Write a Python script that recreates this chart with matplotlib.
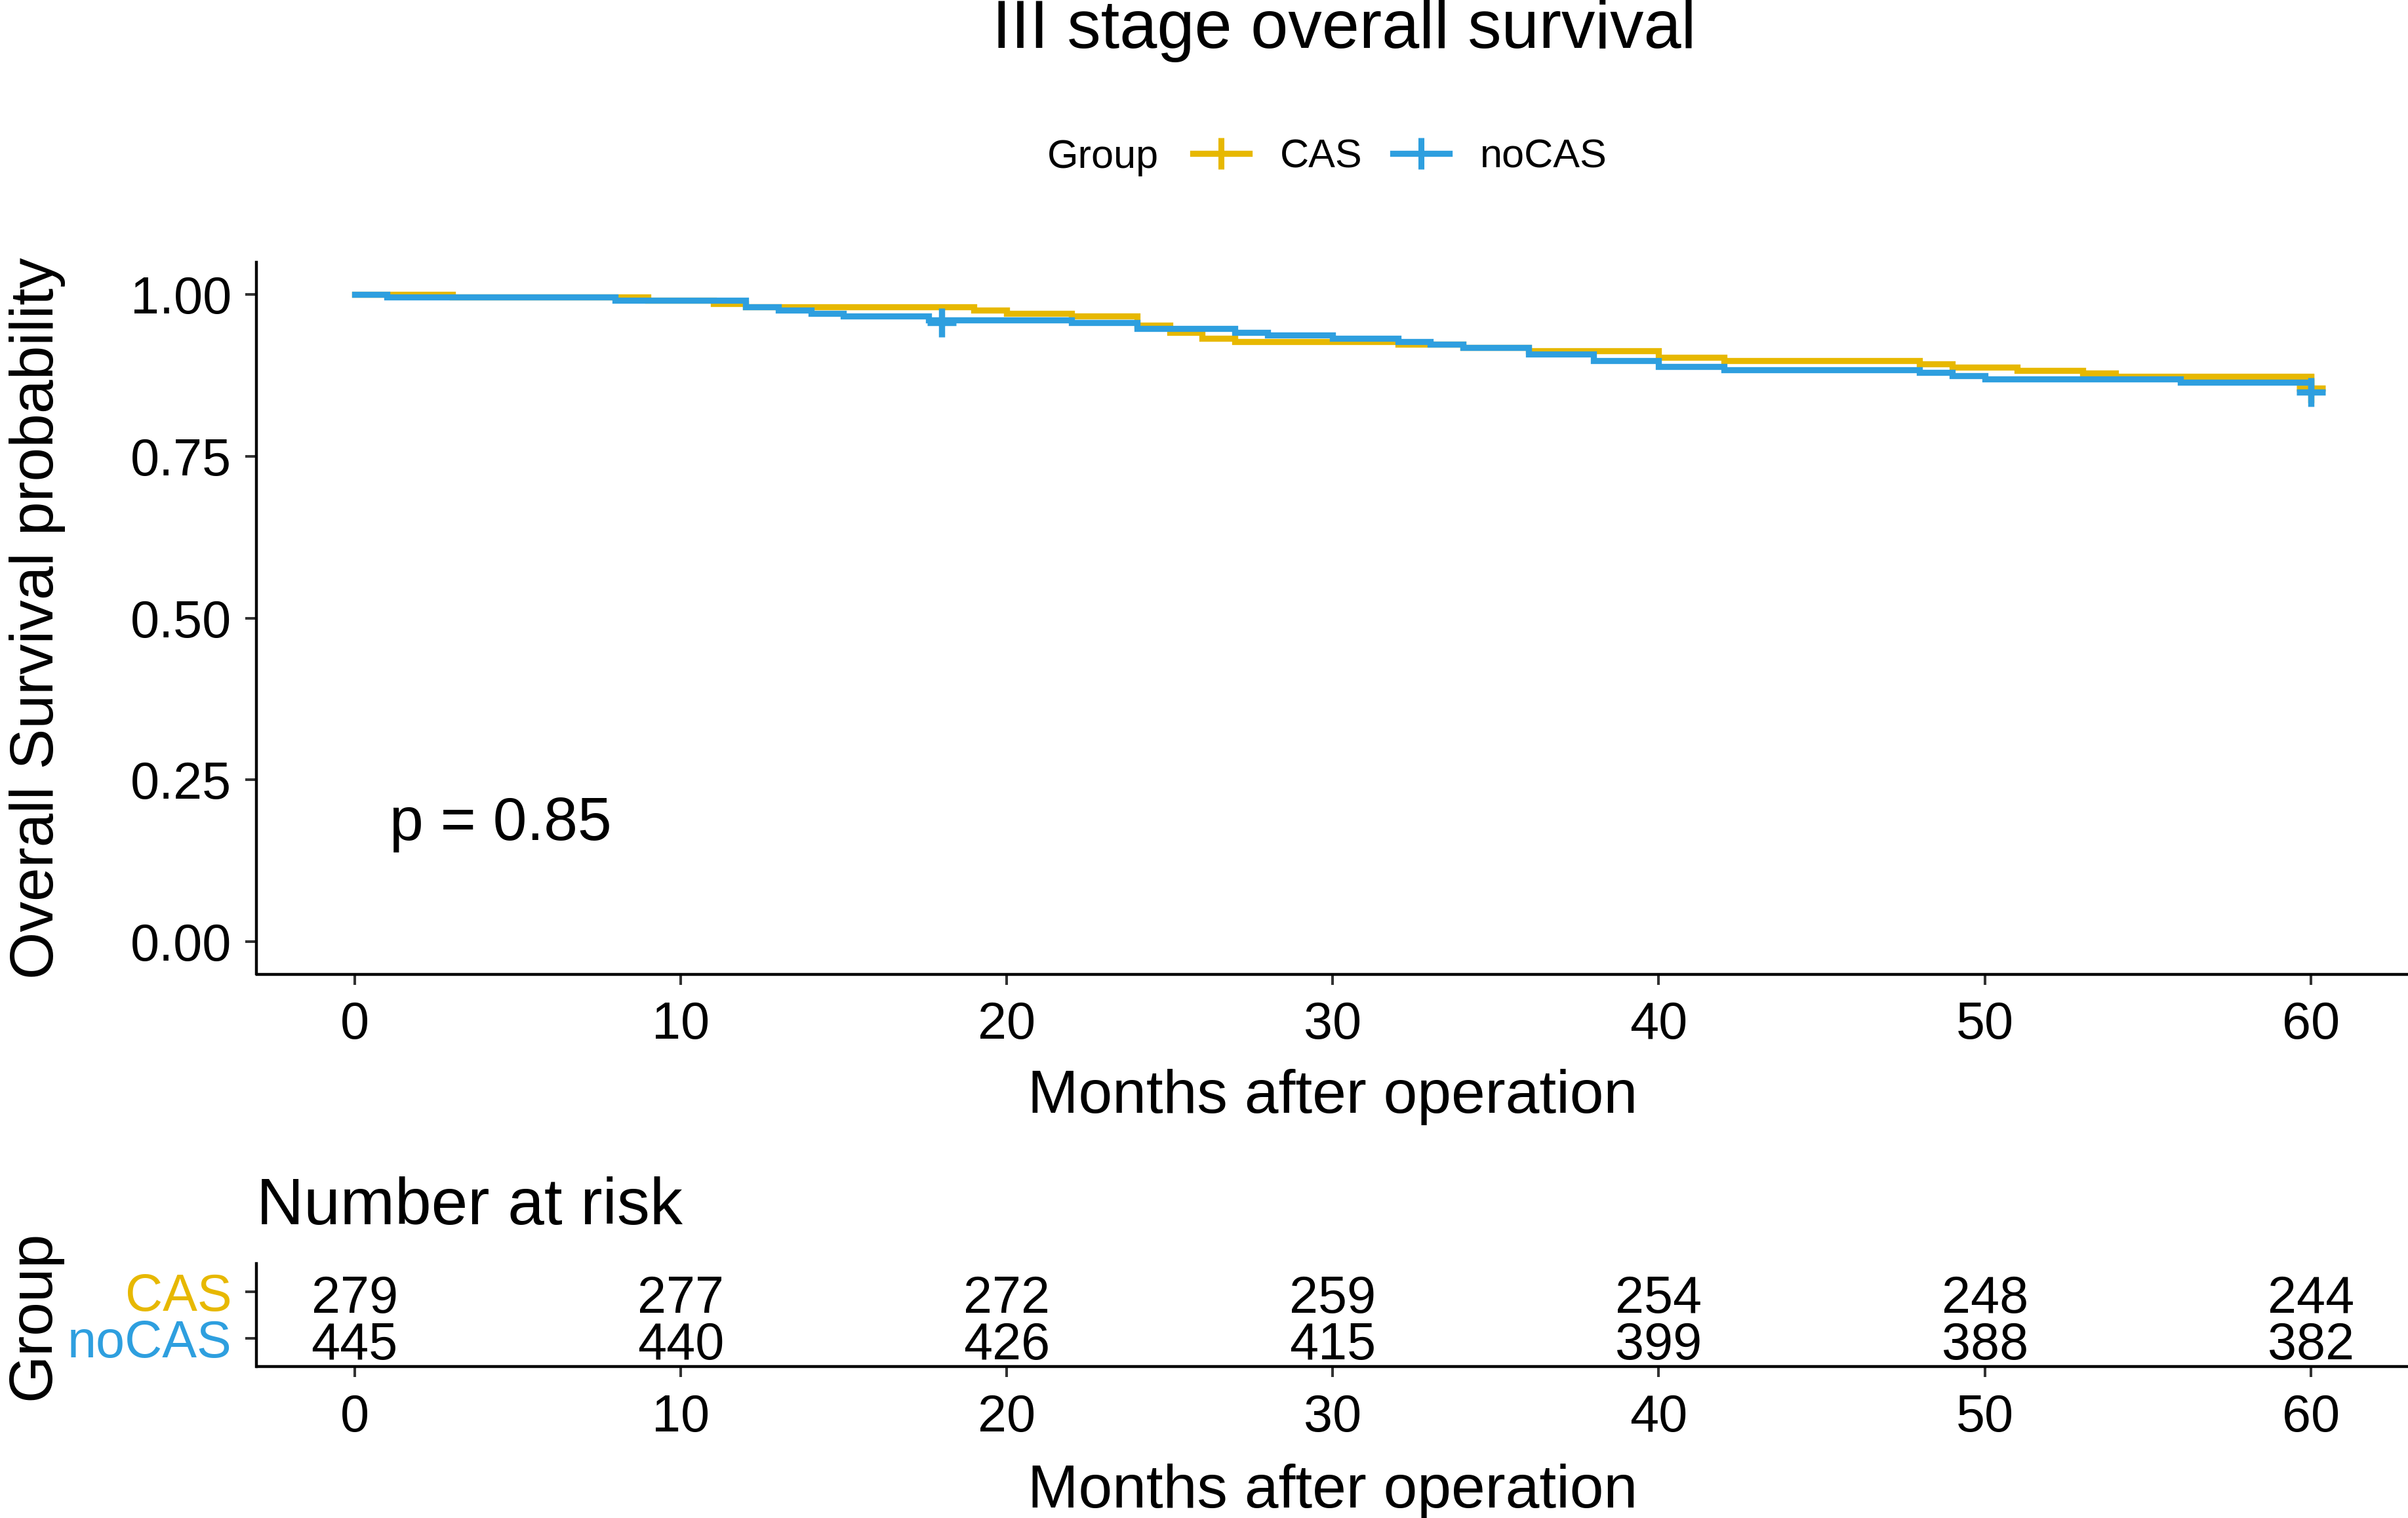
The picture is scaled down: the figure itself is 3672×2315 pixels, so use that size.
import matplotlib
matplotlib.use('Agg')
import matplotlib.pyplot as plt
from matplotlib.lines import Line2D

plt.rcParams['font.family'] = ['Liberation Sans', 'DejaVu Sans']

# data
groups = ['CAS', 'noCAS']
colors = ['#E7B800', '#2E9FDF']

cas_time = [0, 3, 9, 11, 12, 19, 20, 22, 24, 25, 26, 27, 32, 34, 36,
            40, 42, 48, 49, 51, 53, 54, 60]
cas_surv = [1.000, 0.9955, 0.9907, 0.986, 0.981, 0.9758, 0.9709, 0.9662,
            0.952, 0.9417, 0.9324, 0.9275, 0.9226, 0.9177, 0.9128,
            0.903, 0.898, 0.893, 0.888, 0.883, 0.8787, 0.8739, 0.855]
cas_cens_time = [60]
cas_cens_surv = [0.855]

nocas_time = [0, 1, 8, 12, 13, 14, 15, 17.6, 22, 24, 27, 28, 30, 32, 33,
              34, 36, 38, 40, 42, 48, 49, 50, 56, 60]
nocas_surv = [1.000, 0.9955, 0.9907, 0.9805, 0.9758, 0.9709, 0.9662, 0.961,
              0.9563, 0.947, 0.9417, 0.937, 0.9324, 0.9275, 0.9226, 0.9177,
              0.908, 0.8982, 0.8887, 0.8837, 0.8791, 0.8741, 0.8691, 0.8642,
              0.849]
nocas_cens_time = [18, 60]
nocas_cens_surv = [0.9566, 0.849]

risk_times = [0, 10, 20, 30, 40, 50, 60]
cas_risk = [279, 277, 272, 259, 254, 248, 244]
nocas_risk = [445, 440, 426, 415, 399, 388, 382]

W, H = 3673, 2315
fig = plt.figure(figsize=(W / 100, H / 100), dpi=100)

ax = fig.add_axes([391.5 / W, 1 - 1485.5 / H, 1 - 391.5 / W, (1485.5 - 399.7) / H])
ax2 = fig.add_axes([391.5 / W, 1 - 2084 / H, 1 - 391.5 / W, (2084 - 1927) / H])

curves = [(cas_time, cas_surv, cas_cens_time, cas_cens_surv),
          (nocas_time, nocas_surv, nocas_cens_time, nocas_cens_surv)]
for (t, s, ct, cs), c in zip(curves, colors):
    ax.step(t, s, where='post', color=c, lw=6.7, solid_joinstyle='miter')
    ax.plot(ct, cs, ls='none', marker='+', ms=31, mew=6.8, color=c)

ax.text(1.07, 0.157, 'p = 0.85', fontsize=67, va='baseline', ha='left')

for a in (ax, ax2):
    a.set_xlim(-3, 63)
    a.set_xticks(risk_times)
    for side in ('top', 'right'):
        a.spines[side].set_visible(False)
    for side in ('left', 'bottom'):
        a.spines[side].set_linewidth(3.2)
    a.tick_params(axis='x', length=11.5, width=2.9, color='#333333', pad=18,
                  labelsize=57)
    a.tick_params(axis='y', length=12, width=2.9, color='#333333', pad=15.5,
                  labelsize=57)

ax.set_ylim(-0.05, 1.05)
ax.set_yticks([0, 0.25, 0.5, 0.75, 1.0])
ax.set_yticklabels(['0.00', '0.25', '0.50', '0.75', '1.00'])
ax.set_xlabel('Months after operation', fontsize=67)
ax.set_ylabel('Overall Survival probability', fontsize=67)
ax.xaxis.set_label_coords(0.5, (1485.5 - 1630) / (1485.5 - 399.7))
ax.yaxis.set_label_coords((100 - 391.5) / (W - 391.5), 0.5)

# risk table
ypos = {'CAS': 2, 'noCAS': 1}
ax2.set_ylim(0.4, 2.6)
ax2.set_yticks([ypos[g] for g in groups])
ax2.set_yticklabels(groups)
for lab, c in zip(ax2.get_yticklabels(), colors):
    lab.set_color(c)
for g, risk in zip(groups, [cas_risk, nocas_risk]):
    for t, n in zip(risk_times, risk):
        # numbers sit a little below the row centre, as in the reference
        ax2.text(t, ypos[g] - 0.45, str(n), ha='center', va='baseline', fontsize=57)
ax2.text(0, (2084 - 1867) / (2084 - 1927), 'Number at risk', transform=ax2.transAxes,
         fontsize=72, va='baseline', ha='left')
ax2.set_xlabel('Months after operation', fontsize=67)
ax2.set_ylabel('Group', fontsize=67)
ax2.xaxis.set_label_coords(0.5, (2084 - 2232) / (2084 - 1927))
ax2.yaxis.set_label_coords((94 - 391.5) / (W - 391.5), 0.5)

# title and legend
fig.text(2050 / W, 1 - 73 / H, 'III stage overall survival', ha='center',
         va='baseline', fontsize=74)
fig.text(1597 / W, 1 - 256 / H, 'Group', fontsize=44, va='baseline', ha='left')
handles = [Line2D([], [], color=c, lw=6.7, marker='+', ms=34, mew=6.5) for c in colors]
fig.legend(handles, groups, loc='center left', bbox_to_anchor=(1819 / W, 1 - 240 / H),
           ncol=2, frameon=False, fontsize=44, handlelength=1.41, handletextpad=0.77,
           columnspacing=0.75, borderpad=0, borderaxespad=0, numpoints=1)

fig.savefig('out.png', dpi=100)
